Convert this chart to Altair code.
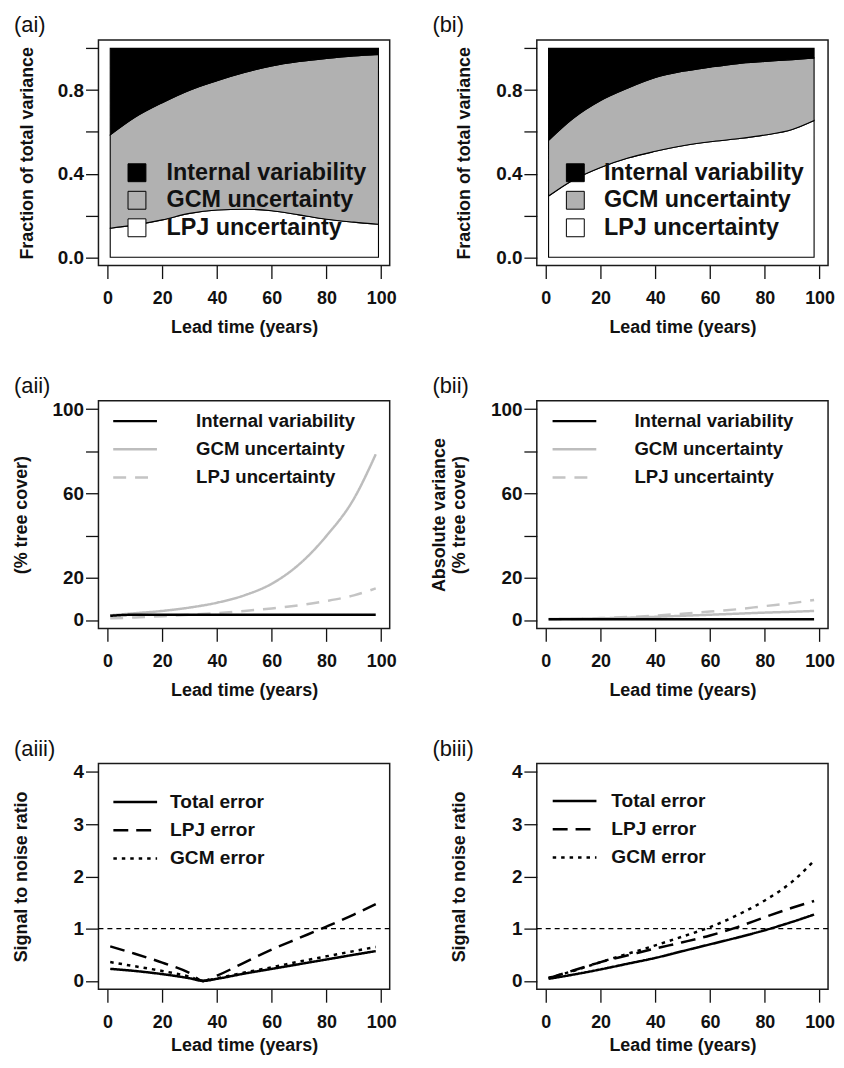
import altair as alt
import pandas as pd

FONT = "Liberation Sans"
INK = "#111111"

# ---------------- data ----------------
# (ai) fraction of total variance, cumulative boundaries
years_ai = [1, 10, 20, 30, 40, 50, 60, 70, 80, 90, 99]
ai_lpj_top = [0.139, 0.155, 0.179, 0.21, 0.226, 0.23, 0.223, 0.203, 0.182, 0.168, 0.158]
ai_gcm_top = [0.586, 0.67, 0.74, 0.80, 0.845, 0.884, 0.916, 0.937, 0.952, 0.964, 0.971]

# (bi)
years_bi = [1, 10, 20, 30, 40, 50, 60, 70, 80, 90, 98]
bi_lpj_top = [0.293, 0.37, 0.43, 0.475, 0.507, 0.534, 0.553, 0.567, 0.585, 0.612, 0.655]
bi_gcm_top = [0.56, 0.665, 0.75, 0.81, 0.86, 0.89, 0.91, 0.927, 0.937, 0.946, 0.954]

# (aii) / (bii) absolute variance (% tree cover)
years_ii = [1, 10, 20, 30, 40, 50, 60, 70, 80, 90, 98]
aii_internal = [2.0, 2.5, 2.5, 2.5, 2.5, 2.5, 2.5, 2.5, 2.5, 2.5, 2.5]
aii_gcm = [2.2, 3.2, 4.3, 5.9, 8.2, 11.7, 17.2, 26.4, 39.9, 57.5, 78.6]
aii_lpj = [0.8, 1.2, 1.8, 2.5, 3.3, 4.3, 5.5, 7.0, 9.0, 11.7, 15.0]

bii_internal = [0.4, 0.4, 0.4, 0.4, 0.4, 0.4, 0.4, 0.4, 0.4, 0.4, 0.4]
bii_gcm = [0.5, 0.6, 0.8, 1.1, 1.5, 2.0, 2.5, 3.0, 3.5, 3.9, 4.3]
bii_lpj = [0.3, 0.5, 0.9, 1.4, 2.1, 3.0, 4.0, 5.1, 6.6, 8.0, 9.5]

# (aiii) / (biii) signal to noise ratio
years_aiii = [1, 10, 20, 30, 35, 40, 50, 60, 70, 80, 90, 98]
aiii_total = [0.23, 0.19, 0.13, 0.05, 0.0, 0.04, 0.14, 0.23, 0.32, 0.41, 0.50, 0.57]
aiii_lpj = [0.66, 0.52, 0.35, 0.15, 0.0, 0.10, 0.35, 0.60, 0.82, 1.04, 1.27, 1.47]
aiii_gcm = [0.36, 0.28, 0.19, 0.08, 0.0, 0.05, 0.16, 0.26, 0.37, 0.47, 0.57, 0.65]

years_biii = [1, 10, 20, 30, 40, 50, 60, 70, 80, 90, 98]
biii_total = [0.04, 0.12, 0.22, 0.33, 0.44, 0.57, 0.70, 0.83, 0.97, 1.13, 1.27]
biii_lpj = [0.05, 0.20, 0.36, 0.49, 0.62, 0.74, 0.87, 1.03, 1.22, 1.40, 1.53]
biii_gcm = [0.06, 0.19, 0.36, 0.52, 0.68, 0.85, 1.03, 1.26, 1.54, 1.90, 2.30]

frac_names = ["Internal variability", "GCM uncertainty", "LPJ uncertainty"]
frac_colors = ["#000000", "#b1b1b1", "#ffffff"]
var_colors = ["#000000", "#bdbdbd", "#c4c4c4"]
var_dash = [[1, 0], [1, 0], [13, 9]]
snr_names = ["Total error", "LPJ error", "GCM error"]
snr_colors = ["#000000", "#000000", "#000000"]
snr_dash = [[1, 0], [15, 8], [3.5, 5]]

x_ticks = [0, 20, 40, 60, 80, 100]
XDOM = [-3.3, 103.1]
W = 293
LINE_SYMBOL = "M0,0H8"   # horizontal stroke, 44 px long at symbolSize 121


def frac_frame(years, lpj_top, gcm_top):
    rows = []
    for i, yr in enumerate(years):
        rows.append({"year": yr, "component": "LPJ uncertainty", "lo": 0.0, "hi": lpj_top[i]})
        rows.append({"year": yr, "component": "GCM uncertainty", "lo": lpj_top[i], "hi": gcm_top[i]})
        rows.append({"year": yr, "component": "Internal variability", "lo": gcm_top[i], "hi": 1.0})
    return pd.DataFrame(rows)


def long_frame(years, names, series):
    rows = []
    # draw order: last name first, so the first series is drawn on top
    for name, vals in reversed(list(zip(names, series))):
        for yr, v in zip(years, vals):
            rows.append({"year": yr, "series": name, "value": v})
    return pd.DataFrame(rows)


def x_enc(title_pad=11):
    return alt.X(
        "year:Q",
        scale=alt.Scale(domain=XDOM, nice=False, zero=False),
        axis=alt.Axis(values=x_ticks, title="Lead time (years)", labelPadding=11,
                      titlePadding=title_pad, labelFontSize=18),
    )


def y_axis(title, values, label_expr, title_pad):
    return alt.Axis(values=values, title=title, labelExpr=label_expr,
                    titlePadding=title_pad, titleLineHeight=19.5, labelPadding=2,
                    labelFontSize=19)


def panel_title(text, dx):
    return alt.TitleParams(text=text, anchor="start", frame="group", dx=dx, offset=2,
                           fontSize=22, fontWeight="normal", font=FONT, color=INK)


def frac_panel(label, dx, years, lpj_top, gcm_top, title_pad, label_off):
    h = 227
    df = frac_frame(years, lpj_top, gcm_top)
    legend = alt.Legend(orient="none", legendX=27, legendY=121.8, title=None,
                        symbolType="square", symbolSize=324, symbolStrokeColor="black",
                        symbolStrokeWidth=1, labelFontSize=23.5, labelFontWeight="bold",
                        labelFont=FONT, labelColor=INK, labelOffset=label_off,
                        rowPadding=2.7, padding=0, labelLimit=400)
    return alt.Chart(df).mark_area(stroke="black", strokeWidth=1.1, interpolate="monotone").encode(
        x=x_enc(),
        y=alt.Y("lo:Q", scale=alt.Scale(domain=[-0.04, 1.04], nice=False, zero=False),
                axis=y_axis("Fraction of total variance", [0, 0.2, 0.4, 0.6, 0.8, 1.0],
                            "(datum.value == 0 || datum.value == 0.4 || datum.value == 0.8) ? format(datum.value, '.1f') : ''",
                            title_pad)),
        y2="hi:Q",
        color=alt.Color("component:N", scale=alt.Scale(domain=frac_names, range=frac_colors),
                        legend=legend),
    ).properties(width=W, height=h, title=panel_title(label, dx))


def line_panel(label, dx, h, years, names, series, colors, dashes, ydom, yvals, yexpr,
               ytitle, title_pad, leg_x, leg_y, label_off, row_pad, font_size,
               hline=False, x_title_pad=11):
    df = long_frame(years, names, series)
    leg = dict(orient="none", legendX=leg_x, legendY=leg_y, title=None,
               symbolType=LINE_SYMBOL, symbolSize=121, symbolStrokeWidth=2.5,
               labelFontSize=font_size, labelFontWeight="bold", labelFont=FONT,
               labelColor=INK, labelOffset=label_off, rowPadding=row_pad, padding=0,
               labelLimit=400)
    yenc = alt.Y("value:Q", scale=alt.Scale(domain=ydom, nice=False, zero=False),
                 axis=y_axis(ytitle, yvals, yexpr, title_pad))
    lines = alt.Chart(df).mark_line(strokeWidth=2.5, interpolate="monotone").encode(
        x=x_enc(x_title_pad),
        y=yenc,
        color=alt.Color("series:N", scale=alt.Scale(domain=names, range=colors),
                        legend=alt.Legend(**leg)),
        strokeDash=alt.StrokeDash("series:N", scale=alt.Scale(domain=names, range=dashes),
                                  legend=alt.Legend(**leg)),
    )
    layers = [lines]
    if hline:
        rule = alt.Chart(pd.DataFrame({"ref": [1.0]})).mark_rule(
            color="black", strokeWidth=1.2, strokeDash=[5, 4]).encode(y=alt.Y("ref:Q"))
        layers = [rule, lines]
    return alt.layer(*layers).properties(width=W, height=h, title=panel_title(label, dx))


ai = frac_panel("(ai)", -85, years_ai, ai_lpj_top, ai_gcm_top, 20.8, 18)
bi = frac_panel("(bi)", -105, years_bi, bi_lpj_top, bi_gcm_top, 21.8, 17)

ii_expr = "(datum.value == 40 || datum.value == 80) ? '' : datum.label"
aii = line_panel("(aii)", -85, 229, years_ii, frac_names, [aii_internal, aii_gcm, aii_lpj],
                 var_colors, var_dash, [-4, 104], [0, 20, 40, 60, 80, 100], ii_expr,
                 "(% tree cover)", 21.3, 5.5, 11.1, 74, 8.3, 18.7)
bii = line_panel("(bii)", -105, 229, years_ii, frac_names, [bii_internal, bii_gcm, bii_lpj],
                 var_colors, var_dash, [-4, 104], [0, 20, 40, 60, 80, 100], ii_expr,
                 ["Absolute variance", "(% tree cover)"], 22.3, 6.5, 11.1, 73, 8.3, 18.7)

iii_expr = "datum.label"
aiii = line_panel("(aiii)", -85, 227, years_aiii, snr_names, [aiii_total, aiii_lpj, aiii_gcm],
                  snr_colors, snr_dash, [-0.16, 4.16], [0, 1, 2, 3, 4], iii_expr,
                  "Signal to noise ratio", 42.5, 5.4, 29, 47.4, 8.4, 19.2,
                  hline=True, x_title_pad=6)
biii = line_panel("(biii)", -105, 227, years_biii, snr_names, [biii_total, biii_lpj, biii_gcm],
                  snr_colors, snr_dash, [-0.16, 4.16], [0, 1, 2, 3, 4], iii_expr,
                  "Signal to noise ratio", 43.4, 6.4, 28, 49.4, 8.4, 19.2,
                  hline=True, x_title_pad=6)

chart = alt.concat(ai, bi, aii, bii, aiii, biii, columns=2, bounds="flush",
                   spacing={"row": 136, "column": 148}).resolve_scale(
    color="independent", strokeDash="independent"
).resolve_legend(
    color="independent", strokeDash="independent"
).configure(
    font=FONT, background="white",
    padding={"left": 4, "top": 2, "right": 0, "bottom": 0},
).configure_view(
    stroke="#1a1a1a", strokeWidth=1.5
).configure_axis(
    domain=False, grid=False, tickColor=INK, tickWidth=1.3, tickSize=13,
    labelFont=FONT, labelFontSize=18, labelFontWeight="bold", labelColor=INK,
    titleFont=FONT, titleFontSize=18, titleFontWeight="bold", titleColor=INK,
    labelFlush=False, labelOverlap=False, labelBound=False,
)

chart.save("out.html", embed_options={"renderer": "svg", "actions": False})
